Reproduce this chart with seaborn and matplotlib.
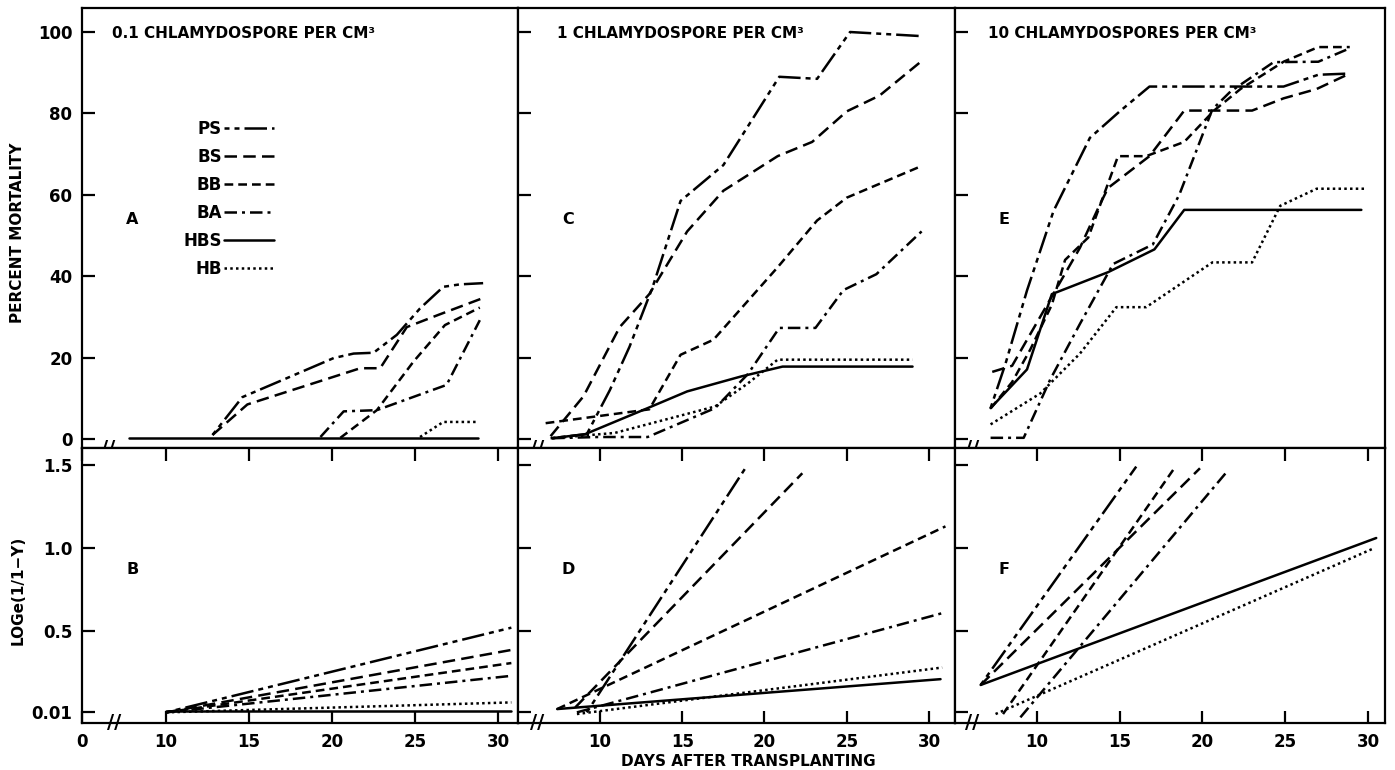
import matplotlib
matplotlib.use('Agg')
import matplotlib.pyplot as plt
import matplotlib.transforms as mtransforms
import pandas as pd
import seaborn as sns

varieties = ['PS', 'BS', 'BB', 'BA', 'HBS', 'HB']

# percent mortality, 0.1 chlamydospore per cm3  (day, value)
panel_a = {
    'PS': ([12.8, 14.6, 17.3, 20.1, 21.3, 22.5, 23.9, 25.3, 26.7, 27.7, 29.1],
           [1, 10.3, 15, 19.9, 21, 21.2, 25.6, 32.1, 37.4, 38, 38.3]),
    'BS': ([12.8, 14.9, 20.1, 21.7, 22.9, 24.5, 26.4, 29.0],
           [1, 8.5, 15.3, 17.4, 17.4, 27.5, 30.5, 34.5]),
    'BB': ([20.5, 22.7, 24.9, 26.8, 28.9], [0.3, 7.1, 19, 28, 32.3]),
    'BA': ([19.3, 20.7, 22.7, 26.9, 28.9], [0.5, 6.8, 7.1, 13.3, 29.2]),
    'HBS': ([7.8, 28.8], [0.2, 0.2]),
    'HB': ([25.3, 26.7, 28.8], [0.5, 4.2, 4.2]),
}
# 1 chlamydospore per cm3
panel_c = {
    'PS': ([7.0, 9.2, 10.6, 11.8, 13.2, 14.3, 14.9, 17.5, 20.9, 23.2, 25.2, 29.5],
           [0.2, 1.2, 12, 22.7, 37.3, 51, 58.5, 67.3, 89, 88.5, 100, 99]),
    'BS': ([7.0, 9.0, 11.2, 13.0, 15.3, 17.5, 20.8, 22.9, 25.0, 27.0, 29.5],
           [0.7, 10.5, 27.5, 35.6, 51, 61, 69.5, 73, 80.5, 84.4, 92.7]),
    'BB': ([6.7, 13.0, 14.9, 16.9, 20.8, 23.2, 25.0, 29.5],
           [3.9, 7.3, 20.7, 24.4, 42.2, 53.7, 59.3, 67]),
    'BA': ([7.1, 9.9, 12.9, 17.0, 19.0, 20.9, 23.1, 24.8, 26.8, 29.6],
           [0.2, 0.5, 0.5, 7.6, 16, 27.3, 27.3, 36.6, 40.5, 51.2]),
    'HBS': ([7.1, 9.1, 12.9, 15.3, 18.6, 21.1, 23.1, 29.0],
            [0.2, 1.2, 7.6, 11.7, 15.4, 17.8, 17.8, 17.8]),
    'HB': ([7.1, 10.9, 17.0, 19.0, 20.8, 23.1, 29.0],
           [0.2, 1.5, 8, 13.7, 19.5, 19.5, 19.5]),
}
# 10 chlamydospores per cm3
panel_e = {
    'PS': ([7.2, 8.1, 9.4, 11.0, 13.2, 15.0, 16.8, 20.3, 22.3, 24.9, 27.0, 28.9],
           [7.6, 18.5, 36.5, 56, 74, 80.5, 86.6, 86.6, 86.6, 86.6, 89.5, 89.8]),
    'BS': ([7.3, 8.5, 10.9, 12.6, 13.8, 14.3, 16.8, 18.9, 23.0, 24.9, 26.9, 28.9],
           [16.5, 18, 35, 47, 57.6, 61.7, 69.5, 80.7, 80.7, 83.7, 86, 89.8]),
    'BB': ([7.2, 8.5, 9.6, 10.9, 11.7, 13.1, 14.9, 16.6, 18.9, 20.7, 22.3, 24.9, 27.0, 28.9],
           [7.5, 14, 22, 33, 44, 49.5, 69.5, 69.5, 73, 80.7, 86, 92.7, 96.3, 96.3]),
    'BA': ([7.2, 9.2, 10.8, 12.6, 14.6, 17.0, 18.6, 20.6, 21.7, 24.3, 27.0, 28.9],
           [0.3, 0.3, 14.6, 28.3, 43, 47.8, 60, 81, 85.4, 92.6, 92.7, 96]),
    'HBS': ([7.2, 9.4, 10.9, 14.3, 17.1, 18.9, 29.6],
            [7.6, 17.1, 35.6, 41, 46.6, 56.3, 56.3]),
    'HB': ([7.2, 10.2, 12.6, 14.8, 16.6, 20.6, 23.0, 24.7, 26.9, 29.9],
           [3.6, 11.2, 21, 32.4, 32.4, 43.4, 43.4, 57.3, 61.5, 61.5]),
}
# loge(1/1-y) fitted lines
panel_b = {
    'PS': ([10, 30.8], [0.01, 0.52]),
    'BS': ([10, 30.8], [0.01, 0.386]),
    'BB': ([10, 30.8], [0.01, 0.307]),
    'BA': ([10, 30.8], [0.01, 0.23]),
    'HBS': ([10, 30.8], [0.018, 0.018]),
    'HB': ([10, 30.8], [0.01, 0.07]),
}
panel_d = {
    'PS': ([9.2, 18.9], [0.01, 1.49]),
    'BS': ([8.5, 22.3], [0.04, 1.45]),
    'BB': ([7.4, 31.0], [0.03, 1.13]),
    'BA': ([8.6, 30.9], [0.01, 0.61]),
    'HBS': ([7.4, 30.7], [0.03, 0.21]),
    'HB': ([8.6, 30.8], [0.0, 0.28]),
}
panel_f = {
    'PS': ([6.6, 16.0], [0.175, 1.49]),
    'BS': ([6.6, 19.85], [0.175, 1.48]),
    'BB': ([7.95, 18.3], [0.0, 1.48]),
    'BA': ([9.0, 21.4], [-0.02, 1.45]),
    'HBS': ([6.6, 30.5], [0.175, 1.06]),
    'HB': ([7.5, 30.4], [0.0, 1.0]),
}

top_titles = ['0.1 CHLAMYDOSPORE PER CM³', '1 CHLAMYDOSPORE PER CM³', '10 CHLAMYDOSPORES PER CM³']
letters_top = ['A', 'C', 'E']
letters_bot = ['B', 'D', 'F']
mort_ticks = [0, 20, 40, 60, 80, 100]
log_ticks = [0.01, 0.5, 1.0, 1.5]
log_ticklabels = ['0.01', '0.5', '1.0', '1.5']
day_ticks = [10, 15, 20, 25, 30]

line_dashes = {
    'PS': (2, 2, 2, 2, 9, 2),
    'BS': (5, 2.5),
    'BB': (3.5, 2),
    'BA': (5, 2, 1.2, 2),
    'HBS': '',
    'HB': (1, 1.3),
}


def to_frame(panel):
    rows = []
    for v in varieties:
        xs, ys = panel[v]
        for x, y in zip(xs, ys):
            rows.append({'day': x, 'value': y, 'variety': v})
    return pd.DataFrame(rows)


sns.set_theme(style='white')
plt.rcParams['font.family'] = ['DejaVu Sans']
plt.rcParams['axes.linewidth'] = 1.6
for k in ['text.color', 'axes.labelcolor', 'xtick.color', 'ytick.color', 'axes.edgecolor']:
    plt.rcParams[k] = 'black'

W, H = 1395, 770
fig = plt.figure(figsize=(W / 100, H / 100), dpi=100)

lefts = [82, 518, 955]
widths = [436, 437, 430]
xlims = [(4.94, 31.2), (5.02, 31.58), (5.05, 31.03)]
brk_top = [6.5, 6.2, 6.1]
brk_bot = [6.9, 6.2, 6.1]
title_x = [0.069, 0.089, 0.077]

for i in range(3):
    l = lefts[i] / W
    w = widths[i] / W
    ax_t = fig.add_axes([l, 1 - 448 / H, w, 440 / H])
    ax_b = fig.add_axes([l, 1 - 723 / H, w, 275 / H])

    for ax, panel, leg in [(ax_t, [panel_a, panel_c, panel_e][i], i == 0),
                           (ax_b, [panel_b, panel_d, panel_f][i], False)]:
        sns.lineplot(data=to_frame(panel), x='day', y='value', style='variety',
                     style_order=varieties, dashes=line_dashes, color='black',
                     linewidth=1.8, estimator=None, sort=False, legend=leg, ax=ax)
        ax.set_xlim(*xlims[i])
        ax.set_xlabel('')
        ax.set_ylabel('')
        for s in ax.spines.values():
            s.set_color('black')
            s.set_linewidth(1.6)

    # top row
    ax_t.set_ylim(-2.2, 105.9)
    ax_t.set_yticks(mort_ticks)
    ax_t.set_xticks(day_ticks)
    ax_t.tick_params(axis='x', direction='in', length=9, width=1.6, labelbottom=False)
    ax_t.tick_params(axis='y', direction='in', length=9.5, width=1.6, left=True,
                     labelleft=(i == 0), labelsize=12, pad=7)
    ax_t.text(title_x[i], 0.943, top_titles[i], transform=ax_t.transAxes,
              fontsize=11, fontweight='bold', va='center', ha='left')
    ax_t.text(0.115, 0.52, letters_top[i], transform=ax_t.transAxes,
              fontsize=11.5, fontweight='bold', va='center', ha='center')

    # bottom row
    ax_b.set_ylim(-0.054, 1.602)
    ax_b.set_yticks(log_ticks)
    ax_b.set_yticklabels(log_ticklabels if i == 0 else [])
    if i == 0:
        ax_b.set_xticks([xlims[i][0]] + day_ticks)
        ax_b.set_xticklabels(['0'] + [str(t) for t in day_ticks])
    else:
        ax_b.set_xticks(day_ticks)
    ax_b.tick_params(axis='x', direction='in', length=9, width=1.6, top=True,
                     bottom=True, labelsize=12, pad=7)
    ax_b.tick_params(axis='y', direction='in', length=9.5, width=1.6, left=True,
                     labelsize=12, pad=7)
    ax_b.text(0.115, 0.56, letters_bot[i], transform=ax_b.transAxes,
              fontsize=11.5, fontweight='bold', va='center', ha='center')

    for lab in ax_t.get_yticklabels() + ax_b.get_yticklabels() + ax_b.get_xticklabels():
        lab.set_fontweight('bold')

    # axis break marks
    for ax, xb in [(ax_t, brk_top[i]), (ax_b, brk_bot[i])]:
        tr = mtransforms.blended_transform_factory(ax.transData, ax.transAxes)
        ax.text(xb, 0, '//', transform=tr, ha='center', va='center', fontsize=14,
                fontweight='bold', clip_on=False)

    if i == 0:
        leg = ax_t.get_legend()
        handles = leg.legend_handles
        labels = [t.get_text() for t in leg.get_texts()]
        leg.remove()
        ax_t.legend(handles, labels, loc='upper left', bbox_to_anchor=(0.233, 0.745),
                    frameon=False, markerfirst=False, handlelength=3.0,
                    handletextpad=0.1, labelspacing=0.6, borderpad=0,
                    borderaxespad=0, prop={'weight': 'bold', 'size': 12})

fig.text(18 / W, 1 - 233 / H, 'PERCENT MORTALITY', rotation=90, ha='center',
         va='center', fontsize=11, fontweight='bold')
fig.text(18 / W, 1 - 590 / H, 'LOGe(1/1−Y)', rotation=90, ha='center',
         va='center', fontsize=11, fontweight='bold')
fig.text(748 / W, 1 - 762 / H, 'DAYS AFTER TRANSPLANTING', ha='center',
         va='center', fontsize=11, fontweight='bold')

fig.savefig('out.png', dpi=100, facecolor='white')
